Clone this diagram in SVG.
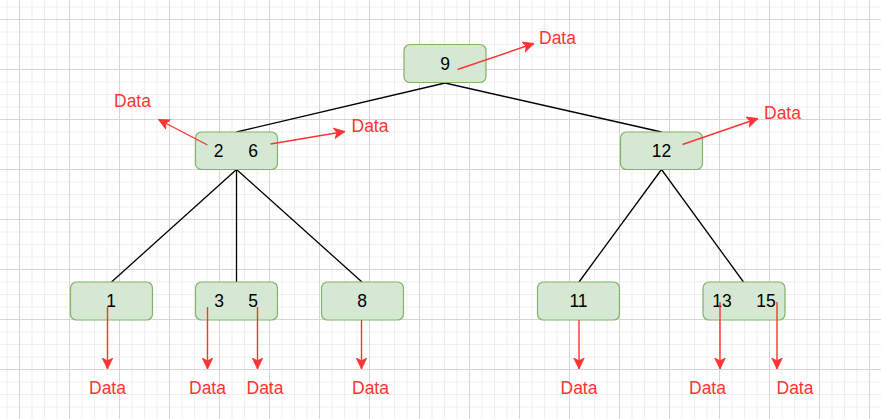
<svg xmlns="http://www.w3.org/2000/svg" width="881" height="419" viewBox="0 0 881 419">
<style>
.node rect{fill:#d5e8d4;stroke:#82b366;stroke-width:1.2}
.node text{font-family:"Liberation Sans",Arial,sans-serif;font-size:17.5px;fill:#000;text-anchor:middle}
.edge{stroke:#000;stroke-width:1.3;fill:none}
.ptr{stroke:#ff3333;stroke-width:1.4;fill:none;marker-end:url(#ah)}
.lbl{font-family:"Liberation Sans",Arial,sans-serif;font-size:17.5px;fill:#ff3333}
</style>
<defs>
<pattern id="grid" patternUnits="userSpaceOnUse" x="19" y="19" width="50" height="50">
<path d="M13 0V50M25.5 0V50M38 0V50M0 13H50M0 25.5H50M0 38H50" stroke="#efefef" stroke-width="1"/>
<path d="M0.5 0V50M0 0.5H50" stroke="#d6d6d6" stroke-width="1"/>
</pattern>
<marker id="ah" markerUnits="userSpaceOnUse" viewBox="0 -6 12 12" refX="11" refY="0" markerWidth="12" markerHeight="12" orient="auto">
<path d="M0,-5.3 L11,0 L0,5.3 L2.8,0 Z" fill="#ff3333" stroke="#ff3333" stroke-width="0.8"/>
</marker>
</defs>
<rect width="881" height="419" fill="#ffffff"/>
<rect width="881" height="419" fill="url(#grid)"/>
<g id="connectors">
<path class="edge" d="M445 83L236.5 132"/>
<path class="edge" d="M445 83L661.5 132"/>
<path class="edge" d="M236.5 169.5L111.5 282"/>
<path class="edge" d="M236.5 169.5L236.5 282"/>
<path class="edge" d="M236.5 169.5L362 282"/>
<path class="edge" d="M661.5 169.5L579 282"/>
<path class="edge" d="M661.5 169.5L743.5 282"/>
</g>
<g id="n9" class="node"><rect x="404" y="44.5" width="82" height="38" rx="6"/><text x="445" y="69.5">9</text></g>
<g id="n2_6" class="node"><rect x="195.5" y="132" width="82" height="37.5" rx="6"/><text y="157"><tspan x="218.5">2</tspan><tspan x="253">6</tspan></text></g>
<g id="n12" class="node"><rect x="620.5" y="132" width="82" height="37.5" rx="6"/><text x="661.5" y="157">12</text></g>
<g id="n1" class="node"><rect x="70.5" y="282" width="82" height="38" rx="6"/><text x="111" y="307">1</text></g>
<g id="n3_5" class="node"><rect x="195.5" y="282" width="82" height="38" rx="6"/><text y="307"><tspan x="219">3</tspan><tspan x="253">5</tspan></text></g>
<g id="n8" class="node"><rect x="321.5" y="282" width="82" height="38" rx="6"/><text x="362" y="307">8</text></g>
<g id="n11" class="node"><rect x="537.5" y="282" width="82" height="38" rx="6"/><text x="578.5" y="307">11</text></g>
<g id="n13_15" class="node"><rect x="703" y="282" width="82" height="38" rx="6"/><text y="307"><tspan x="722">13</tspan><tspan x="766">15</tspan></text></g>
<g id="pointers">
<path class="ptr" d="M457.5 69.5L534 43.5"/>
<path class="ptr" d="M207.5 145L158.5 119.5"/>
<path class="ptr" d="M270.5 144L345 131.5"/>
<path class="ptr" d="M682.5 144.5L758 118.5"/>
<path class="ptr" d="M107.5 307V369"/>
<path class="ptr" d="M207.5 307V369"/>
<path class="ptr" d="M257.5 307V369"/>
<path class="ptr" d="M361.5 320V369"/>
<path class="ptr" d="M579 320V369"/>
<path class="ptr" d="M720 302V369"/>
<path class="ptr" d="M777 302V369"/>
</g>
<g id="labels">
<text class="lbl" x="539" y="44">Data</text>
<text class="lbl" x="114" y="106.5">Data</text>
<text class="lbl" x="351.5" y="131.5">Data</text>
<text class="lbl" x="764" y="118.5">Data</text>
<text class="lbl" x="89" y="393.5">Data</text>
<text class="lbl" x="189" y="393.5">Data</text>
<text class="lbl" x="246.5" y="393.5">Data</text>
<text class="lbl" x="352" y="393.5">Data</text>
<text class="lbl" x="560.5" y="393.5">Data</text>
<text class="lbl" x="689" y="393.5">Data</text>
<text class="lbl" x="776.5" y="393.5">Data</text>
</g>
</svg>
